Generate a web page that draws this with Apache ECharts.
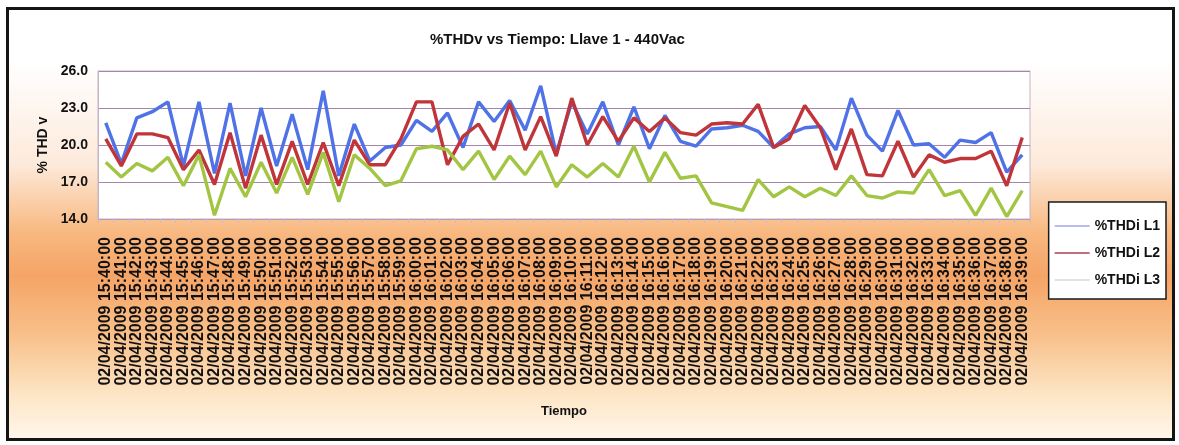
<!DOCTYPE html>
<html>
<head>
<meta charset="utf-8">
<script src="https://cdn.jsdelivr.net/npm/echarts@6/dist/echarts.min.js"></script>
<style>
html,body{margin:0;padding:0;width:1179px;height:445px;background:#fff;overflow:hidden;}
#frame{position:absolute;left:6px;top:7px;width:1163px;height:428px;border:3px solid #151515;
background:linear-gradient(to bottom,#ffffff 0%,#ffffff 12%,#fdeadb 36%,#f8b880 52%,#f5a466 62%,#f8c08a 76%,#fde6c6 90%,#fff6ea 100%);}
#chart{position:absolute;left:0;top:0;width:1179px;height:445px;}
</style>
</head>
<body>
<div id="frame"></div>
<div id="chart"></div>
<script>
const categories = [
"02/04/2009 15:40:00","02/04/2009 15:41:00","02/04/2009 15:42:00","02/04/2009 15:43:00","02/04/2009 15:44:00",
"02/04/2009 15:45:00","02/04/2009 15:46:00","02/04/2009 15:47:00","02/04/2009 15:48:00","02/04/2009 15:49:00",
"02/04/2009 15:50:00","02/04/2009 15:51:00","02/04/2009 15:52:00","02/04/2009 15:53:00","02/04/2009 15:54:00",
"02/04/2009 15:55:00","02/04/2009 15:56:00","02/04/2009 15:57:00","02/04/2009 15:58:00","02/04/2009 15:59:00",
"02/04/2009 16:00:00","02/04/2009 16:01:00","02/04/2009 16:02:00","02/04/2009 16:03:00","02/04/2009 16:04:00",
"02/04/2009 16:05:00","02/04/2009 16:06:00","02/04/2009 16:07:00","02/04/2009 16:08:00","02/04/2009 16:09:00",
"02/04/2009 16:10:00","02/04/2009 16:11:00","02/04/2009 16:12:00","02/04/2009 16:13:00","02/04/2009 16:14:00",
"02/04/2009 16:15:00","02/04/2009 16:16:00","02/04/2009 16:17:00","02/04/2009 16:18:00","02/04/2009 16:19:00",
"02/04/2009 16:20:00","02/04/2009 16:21:00","02/04/2009 16:22:00","02/04/2009 16:23:00","02/04/2009 16:24:00",
"02/04/2009 16:25:00","02/04/2009 16:26:00","02/04/2009 16:27:00","02/04/2009 16:28:00","02/04/2009 16:29:00",
"02/04/2009 16:30:00","02/04/2009 16:31:00","02/04/2009 16:32:00","02/04/2009 16:33:00","02/04/2009 16:34:00",
"02/04/2009 16:35:00","02/04/2009 16:36:00","02/04/2009 16:37:00","02/04/2009 16:38:00","02/04/2009 16:39:00"
];
const seriesNames = ["%THDi L1", "%THDi L2", "%THDi L3"];
const thdL1 = [21.8,18.5,22.2,22.7,23.5,18.3,23.5,17.7,23.4,17.5,
               23.0,18.3,22.5,18.0,24.4,17.5,21.7,18.7,19.8,20.0,
               22.0,21.1,22.6,19.8,23.5,21.9,23.6,21.2,24.8,19.3,
               23.5,20.9,23.5,20.0,23.1,19.7,22.4,20.3,19.9,21.3,
               21.4,21.6,21.1,19.8,20.9,21.4,21.5,19.6,23.8,20.8,
               19.5,22.8,20.0,20.1,19.0,20.4,20.2,21.0,17.8,19.2];
const thdL2 = [20.5,18.3,20.9,20.9,20.6,18.0,19.6,16.8,21.0,16.5,
               20.8,16.8,20.3,16.8,20.2,16.7,20.4,18.4,18.4,20.5,
               23.5,23.5,18.4,20.7,21.7,19.6,23.4,19.6,22.3,19.1,
               23.8,20.0,22.3,20.3,22.2,21.1,22.2,21.0,20.8,21.7,
               21.8,21.7,23.3,19.8,20.5,23.2,21.4,18.0,21.3,17.6,
               17.5,20.3,17.4,19.2,18.6,18.9,18.9,19.5,16.7,20.6];
const thdL3 = [18.6,17.4,18.5,17.9,19.0,16.7,19.2,14.3,18.1,15.8,
               18.6,16.1,19.0,16.0,19.4,15.4,19.2,18.1,16.7,17.1,
               19.7,19.9,19.6,18.0,19.5,17.2,19.1,17.6,19.5,16.6,
               18.4,17.4,18.5,17.4,19.9,17.0,19.4,17.3,17.5,15.3,
               15.0,14.7,17.2,15.8,16.6,15.8,16.5,15.9,17.5,15.9,
               15.7,16.2,16.1,18.0,15.9,16.3,14.3,16.5,14.2,16.3];
const yTicks = [14.0, 17.0, 20.0, 23.0, 26.0];

const lineColors = ["#4f72e6", "#c0353a", "#a2c643"];
const legendColors = ["#a4a4ea", "#a8424e", "#d3dadf"];
const font = "'Liberation Sans', Arial, sans-serif";

const chart = echarts.init(document.getElementById('chart'), null, {renderer: 'canvas'});
const data = [thdL1, thdL2, thdL3];
chart.setOption({
  backgroundColor: 'transparent',
  animation: false,
  title: {
    text: '%THDv vs Tiempo: Llave 1 - 440Vac',
    left: 425, top: 27,
    textStyle: {fontFamily: font, fontSize: 15, fontWeight: 'bold', color: '#111'}
  },
  legend: {
    orient: 'vertical',
    right: 13, top: 202,
    backgroundColor: '#ffffff',
    borderColor: '#1a1a1a', borderWidth: 1.5,
    padding: [17, 6, 12, 6],
    itemWidth: 35, itemHeight: 12, itemGap: 13,
    textStyle: {fontFamily: font, fontSize: 14, fontWeight: 'bold', color: '#111'},
    data: seriesNames.map((n, i) => ({name: n, icon: 'path://M0,5 L35,5 L35,6.5 L0,6.5 Z', itemStyle: {color: legendColors[i]}}))
  },
  grid: {
    left: 98, right: 149, top: 71, bottom: 226,
    show: true, backgroundColor: '#ffffff', borderColor: '#c4b4c4', borderWidth: 1
  },
  xAxis: {
    type: 'category',
    data: categories,
    boundaryGap: true,
    name: 'Tiempo',
    nameLocation: 'middle',
    nameGap: 186,
    nameTextStyle: {fontFamily: font, fontSize: 13, fontWeight: 'bold', color: '#111'},
    axisLine: {lineStyle: {color: '#b49cb4', width: 1}},
    axisTick: {show: true, length: 4, lineStyle: {color: '#c8b8c8'}},
    axisLabel: {
      interval: 0, rotate: 90, margin: 18,
      fontFamily: font, fontSize: 16, fontWeight: 'bold', color: '#111'
    }
  },
  yAxis: {
    type: 'value',
    min: yTicks[0], max: yTicks[yTicks.length - 1], interval: 3,
    name: '% THD v',
    nameLocation: 'middle',
    nameRotate: 90,
    nameGap: 38,
    nameTextStyle: {fontFamily: font, fontSize: 14, fontWeight: 'bold', color: '#111'},
    axisLine: {show: true, lineStyle: {color: '#c4b4c4'}},
    axisTick: {show: false},
    splitLine: {show: true, lineStyle: {color: '#a486ab', width: 1.2}},
    axisLabel: {
      margin: 10,
      fontFamily: font, fontSize: 14, fontWeight: 'bold', color: '#111',
      formatter: v => v.toFixed(1)
    }
  },
  series: seriesNames.map((n, i) => ({
    name: n,
    type: 'line',
    data: data[i],
    symbol: 'none',
    lineStyle: {color: lineColors[i], width: 3.4},
    itemStyle: {color: lineColors[i]}
  }))
});
</script>
</body>
</html>
